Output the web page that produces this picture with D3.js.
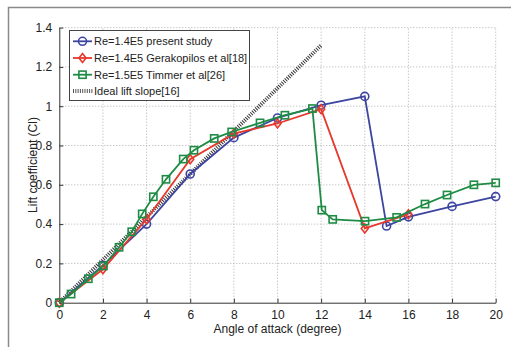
<!DOCTYPE html>
<html><head><meta charset="utf-8">
<script src="https://cdn.jsdelivr.net/npm/d3@7"></script>
<style>body{margin:0;background:#fff}svg{display:block}text{font-family:"Liberation Sans",Arial,sans-serif}</style>
</head><body>
<svg id="c" width="511" height="347"></svg>
<script>
const xTicks = [0,2,4,6,8,10,12,14,16,18,20];
const yTicks = [0,0.2,0.4,0.6,0.8,1,1.2,1.4];
const yTickLabels = ["0","0.2","0.4","0.6","0.8","1","1.2","1.4"];

const presentAlpha = [0,2,4,6,8,10,12,14,15,16,18,20];
const presentCl    = [0,0.19,0.40,0.655,0.84,0.94,1.005,1.05,0.39,0.437,0.49,0.54];

const gerakAlpha = [0,2,4,6,8,10,12,14,16];
const gerakCl    = [0,0.17,0.425,0.73,0.86,0.912,0.985,0.378,0.45];

const timmerAlpha = [0,0.54,1.33,2.02,2.74,3.32,3.8,4.31,4.89,5.68,6.17,7.1,7.9,9.2,10.34,11.6,12.03,12.53,14.01,15.46,16.76,17.77,19.0,20.0];
const timmerCl    = [0,0.044,0.122,0.187,0.282,0.361,0.452,0.539,0.628,0.731,0.776,0.836,0.869,0.915,0.954,0.988,0.471,0.424,0.415,0.434,0.502,0.548,0.60,0.61];

const idealAlpha = [0,12];
const idealCl    = [0,1.31];

const legendLabels = ["Re=1.4E5 present study","Re=1.4E5 Gerakopilos et al[18]","Re=1.5E5 Timmer et al[26]","Ideal lift slope[16]"];

const svg = d3.select("#c");
const L=59.3, R=495.7, T=27.6, B=302.7;
const x = d3.scaleLinear().domain([0,20]).range([L,R]);
const y = d3.scaleLinear().domain([0,1.4]).range([B,T]);

// outer frame
svg.append("path").attr("d","M8.5,347 V7.5 H511").attr("fill","none").attr("stroke","#8a8a8a").attr("stroke-width",1.5);

// grid
const g = svg.append("g");
g.selectAll("line.gx").data(xTicks.slice(1)).join("line").attr("class","gx")
 .attr("x1",d=>x(d)).attr("x2",d=>x(d)).attr("y1",B).attr("y2",T)
 .attr("stroke","#b0b0b0").attr("stroke-width",1).attr("stroke-dasharray","1,2");
g.selectAll("line.gy").data(yTicks.slice(1)).join("line").attr("class","gy")
 .attr("x1",L).attr("x2",R).attr("y1",d=>y(d)).attr("y2",d=>y(d))
 .attr("stroke","#b0b0b0").attr("stroke-width",1).attr("stroke-dasharray","1,2");

// axes
const xAxis = d3.axisBottom(x).tickValues(xTicks).tickSizeInner(-4).tickSizeOuter(0).tickPadding(8);
const yAxis = d3.axisLeft(y).tickValues(yTicks).tickFormat((d,i)=>yTickLabels[i]).tickSizeInner(-4).tickSizeOuter(0).tickPadding(7);
const gx = svg.append("g").attr("transform",`translate(0,${B})`).call(xAxis);
const gy = svg.append("g").attr("transform",`translate(${L},0)`).call(yAxis);
[gx,gy].forEach(a=>{
  a.selectAll("path").attr("stroke","#333").attr("stroke-width",1);
  a.selectAll("line").attr("stroke","#333");
  a.selectAll("text").attr("font-size",12).attr("fill","#222").attr("font-family",'"Liberation Sans",Arial,sans-serif');
});

svg.append("text").attr("x",(L+R)/2).attr("y",333).attr("text-anchor","middle").attr("font-size",12).attr("fill","#222").text("Angle of attack (degree)");
svg.append("text").attr("x",33).attr("y",165).attr("transform","rotate(-90,33,165)").attr("dy","0.35em").attr("text-anchor","middle").attr("font-size",12).attr("fill","#222").text("Lift coefficient (Cl)");

const line = d3.line().x(d=>x(d[0])).y(d=>y(d[1]));
const zip=(a,b)=>a.map((v,i)=>[v,b[i]]);

const cBlue="#3d45a0", cRed="#e8382c", cGreen="#1e8c45";

// ideal
svg.append("path").datum(zip(idealAlpha,idealCl)).attr("d",line).attr("fill","none")
 .attr("stroke","#333").attr("stroke-width",4).attr("stroke-dasharray","1,1.3");

function drawMarkers(sel,pts,color,shape){
  pts.forEach(([px,py])=>{
    if(shape==="circle") sel.append("circle").attr("cx",px).attr("cy",py).attr("r",4).attr("fill","none").attr("stroke",color).attr("stroke-width",1.6);
    else if(shape==="square") sel.append("rect").attr("x",px-3.6).attr("y",py-3.6).attr("width",7.2).attr("height",7.2).attr("fill","none").attr("stroke",color).attr("stroke-width",1.6);
    else sel.append("path").attr("d",`M${px},${py-4.5}L${px+3.5},${py}L${px},${py+4.5}L${px-3.5},${py}Z`).attr("fill","none").attr("stroke",color).attr("stroke-width",1.6);
  });
}
function series(al,cl,color,shape){
  const data=zip(al,cl);
  const sg = svg.append("g");
  sg.append("path").datum(data).attr("d",line).attr("fill","none").attr("stroke",color).attr("stroke-width",1.8);
  drawMarkers(sg,data.map(d=>[x(d[0]),y(d[1])]),color,shape);
}
series(presentAlpha,presentCl,cBlue,"circle");
series(gerakAlpha,gerakCl,cRed,"diamond");
series(timmerAlpha,timmerCl,cGreen,"square");

// legend
const lg = svg.append("g");
lg.append("rect").attr("x",69.5).attr("y",30.5).attr("width",180).attr("height",70).attr("fill","#fff").attr("stroke","#444").attr("stroke-width",1);
const ly=[41.3,58,74.7,91];
const lcol=[cBlue,cRed,cGreen,"#333"], lshape=["circle","diamond","square",null];
legendLabels.forEach((t,i)=>{
  if(i<3){
    lg.append("line").attr("x1",73).attr("x2",92).attr("y1",ly[i]).attr("y2",ly[i]).attr("stroke",lcol[i]).attr("stroke-width",1.8);
    drawMarkers(lg,[[82.5,ly[i]]],lcol[i],lshape[i]);
  } else {
    lg.append("line").attr("x1",73).attr("x2",93).attr("y1",ly[i]).attr("y2",ly[i]).attr("stroke","#555").attr("stroke-width",4).attr("stroke-dasharray","1,1.3");
  }
  lg.append("text").attr("x",94).attr("y",ly[i]+4).attr("font-size",11).attr("fill","#222").text(t);
});
</script>
</body></html>
